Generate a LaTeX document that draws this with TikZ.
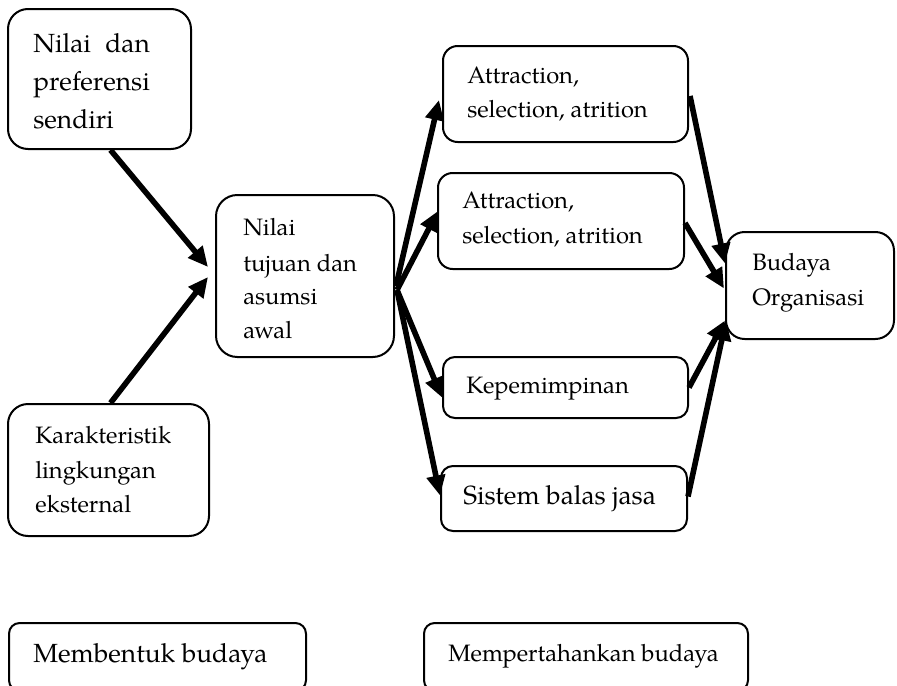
\documentclass[tikz,border=0pt]{standalone}
\usepackage{fontspec}
\setmainfont{texgyrepagella-regular.otf}
\usetikzlibrary{arrows.meta,calc}
\tikzset{
  box/.style={draw, line width=1.5pt, inner sep=0pt},
  lbl/.style={anchor=base west, inner sep=0pt},
  big/.style={font=\fontsize{19.7}{24}\selectfont},
  mid/.style={font=\fontsize{17.8}{22}\selectfont},
  flow/.style={line width=4.2pt, -{Triangle[length=15pt,width=13.5pt]}},
}
% rounded box from its corners (px): name, x1, y1, x2, y2, corner radius
\newcommand\rbox[6]{%
  \node[box, rounded corners=#6, anchor=north west,
        minimum width={(#4-#2)*0.75pt}, minimum height={(#5-#3)*0.75pt}]
        (#1) at (#2,#3) {};}
\begin{document}
\begin{tikzpicture}[x=0.75pt, y=-0.75pt]
\useasboundingbox (0,0) rectangle (897,686);
\clip (0,0) rectangle (897,686);

% boxes
\rbox{pref}{7}{8}{190}{148}{15pt}
\rbox{nilai}{215}{194}{393}{356}{16pt}
\rbox{asa}{442}{45}{687}{141}{11pt}
\rbox{asb}{437}{172}{683}{268}{11pt}
\rbox{pimpin}{442}{356}{687}{417}{9pt}
\rbox{jasa}{440}{465}{686}{530}{9pt}
\rbox{budaya}{725}{231}{893}{338}{14pt}
\rbox{ling}{7}{403}{208}{535}{15pt}
\rbox{bentuk}{8}{622}{305}{690}{8pt}
\rbox{tahan}{423}{622}{747}{690}{8pt}

% texts
\node[lbl, big] (p1) at (33,52) {\setbox0\hbox{preferensi}\makebox[\wd0][s]{Nilai dan}};
\node[lbl, big] (p2) at (33,90) {preferensi};
\node[lbl, big] (p3) at (33,128) {sendiri};

\node[lbl, mid] (n1) at (243,235) {Nilai};
\node[lbl, mid] (n2) at (243,271) {tujuan dan};
\node[lbl, mid] (n3) at (243,304) {asumsi};
\node[lbl, mid] (n4) at (243,338) {awal};

\node[lbl, mid] (a1) at (467,83) {Attraction,};
\node[lbl, mid] (a2) at (467,117) {selection, atrition};
\node[lbl, mid] (b1) at (462,208) {Attraction,};
\node[lbl, mid] (b2) at (462,243) {selection, atrition};

\node[lbl, mid] (k1) at (466,393) {Kepemimpinan};
\node[lbl, big] (s1) at (463,504) {Sistem balas jasa};

\node[lbl, mid] (o1) at (752,270) {Budaya};
\node[lbl, mid] (o2) at (752,305) {Organisasi};

\node[lbl, mid] (l1) at (35,443) {Karakteristik};
\node[lbl, mid] (l2) at (35,478) {lingkungan};
\node[lbl, mid] (l3) at (35,512) {eksternal};

\node[lbl, big] (m1) at (33,662) {Membentuk budaya};
\node[lbl, mid] (m2) at (448,661) {Mempertahankan budaya};

% connectors
\draw[flow] ($(pref.south)+(11,0)$) -- ($(nilai.west)+(-7,-9)$);
\draw[flow] ($(ling.north)+(2,0)$) -- ($(nilai.west)+(-7,1)$);

\draw[flow] ($(nilai.east)+(1,10)$) -- ($(asa.west)+(-3,6)$);
\draw[flow] ($(nilai.east)+(2,14)$) -- ($(asb.west)+(1,-10)$);
\draw[flow] ($(nilai.east)+(2,14)$) -- ($(pimpin.west)+(0,10)$);
\draw[flow] ($(nilai.east)+(2,14)$) -- ($(jasa.west)+(0,-3)$);

\draw[flow] ($(asa.east)+(1,2)$) -- ($(budaya.west)+(0,-22)$);
\draw[flow] ($(asb.east)+(0,2)$) -- ($(budaya.west)+(-1,3)$);
\draw[flow] ($(pimpin.east)+(0,0)$) -- ($(budaya.west)+(0,35)$);
\draw[flow] ($(jasa.east)+(0,-2)$) -- ($(budaya.west)+(1,35)$);
\end{tikzpicture}
\end{document}
